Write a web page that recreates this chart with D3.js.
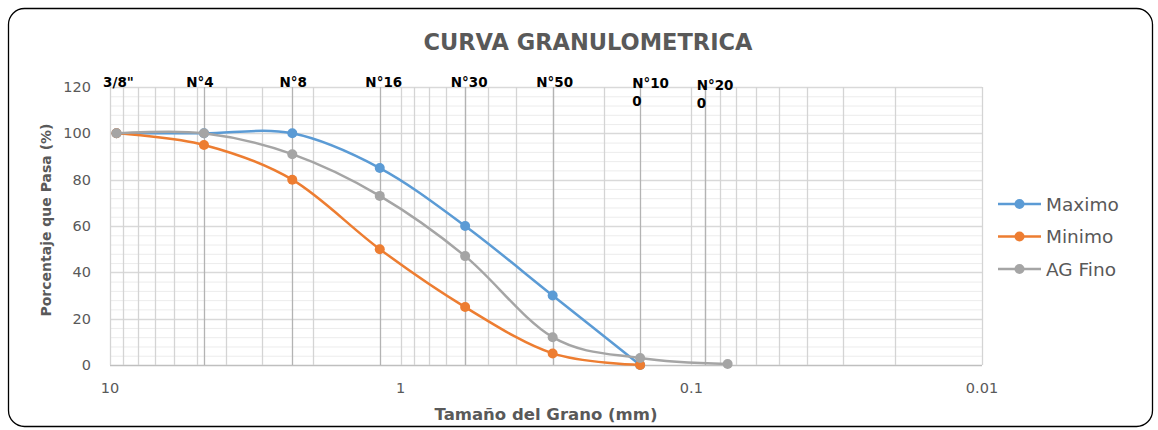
<!DOCTYPE html>
<html>
<head>
<meta charset="utf-8">
<script src="https://cdn.jsdelivr.net/npm/d3@7"></script>
<style>
  body { margin: 0; background: #fff; }
  text { font-family: "DejaVu Sans", sans-serif; }
</style>
</head>
<body>
<svg id="mainsvg" width="1158" height="430"></svg>
<script>
// tamices (mm) y etiquetas
const sieveSizes = [9.5, 4.75, 2.36, 1.18, 0.6, 0.3, 0.15, 0.075];
const sieveLabels = ['3/8"', 'N°4', 'N°8', 'N°16', 'N°30', 'N°50', 'N°100', 'N°200'];
// lineas verticales de los tamices (la de N°200 cae en 0.09 en el original)
const guideSizes = [4.75, 2.36, 1.18, 0.6, 0.3, 0.15, 0.09];

const maximo = [100, 100, 100, 85, 60, 30, 0];
const minimo = [100, 95, 80, 50, 25, 5, 0];
const agFino = [100, 100, 91, 73, 47, 12, 3, 0.4];

const seriesNames = ['Maximo', 'Minimo', 'AG Fino'];
const seriesColors = ['#5B9BD5', '#ED7D31', '#A5A5A5'];

const xTicks = [10, 1, 0.1, 0.01];
const yTicks = [0, 20, 40, 60, 80, 100, 120];

const svg = d3.select('#mainsvg');
const width = +svg.attr('width');
const height = +svg.attr('height');
const plot = { left: 110, right: 982, top: 87, bottom: 365 };

const x = d3.scaleLog().domain([10, 0.01]).range([plot.left, plot.right]);
const y = d3.scaleLinear().domain([0, 120]).range([plot.bottom, plot.top]);

// marco redondeado
svg.append('rect')
  .attr('x', 8.5).attr('y', 8.5)
  .attr('width', width - 14).attr('height', height - 12)
  .attr('rx', 16)
  .attr('fill', '#fff')
  .attr('stroke', '#000')
  .attr('stroke-width', 1.3);

svg.append('text')
  .attr('x', 588).attr('y', 50)
  .attr('text-anchor', 'middle')
  .attr('font-size', 22.5).attr('font-weight', 'bold')
  .attr('fill', '#595959')
  .text('CURVA GRANULOMETRICA');

const g = svg.append('g');

// rejilla horizontal menor y mayor
g.selectAll('line.hminor').data(d3.range(0, 121, 4).filter(v => v % 20 !== 0)).join('line')
  .attr('class', 'hminor')
  .attr('x1', plot.left).attr('x2', plot.right)
  .attr('y1', d => y(d) + 0.5).attr('y2', d => y(d) + 0.5)
  .attr('stroke', '#ececec').attr('stroke-width', 1);

g.selectAll('line.hmajor').data(yTicks).join('line')
  .attr('class', 'hmajor')
  .attr('x1', plot.left).attr('x2', plot.right)
  .attr('y1', d => Math.round(y(d)) + 0.5).attr('y2', d => Math.round(y(d)) + 0.5)
  .attr('stroke', d => d === 0 ? '#bfbfbf' : '#d9d9d9').attr('stroke-width', 1.3);

// rejilla vertical logaritmica
const vgrid = [];
[10, 1, 0.1].forEach(dec => { for (let k = 10; k >= 2; k--) vgrid.push(dec * k / 10); });
vgrid.push(0.01);
g.selectAll('line.vgrid').data(vgrid).join('line')
  .attr('class', 'vgrid')
  .attr('x1', d => Math.round(x(d)) + 0.5).attr('x2', d => Math.round(x(d)) + 0.5)
  .attr('y1', plot.top).attr('y2', plot.bottom)
  .attr('stroke', '#d4d4d4').attr('stroke-width', 1.3);

g.selectAll('line.guide').data(guideSizes).join('line')
  .attr('class', 'guide')
  .attr('x1', d => Math.round(x(d)) + 0.5).attr('x2', d => Math.round(x(d)) + 0.5)
  .attr('y1', plot.top).attr('y2', plot.bottom)
  .attr('stroke', '#b3b3b3').attr('stroke-width', 1.3);

// ejes
g.selectAll('text.ytick').data(yTicks).join('text')
  .attr('class', 'ytick')
  .attr('x', 91).attr('y', d => y(d) + 5)
  .attr('text-anchor', 'end')
  .attr('font-size', 14.5).attr('fill', '#595959')
  .text(d => d);

g.selectAll('text.xtick').data(xTicks).join('text')
  .attr('class', 'xtick')
  .attr('x', d => x(d)).attr('y', 393)
  .attr('text-anchor', 'middle')
  .attr('font-size', 14.5).attr('fill', '#595959')
  .text(d => d);

svg.append('text')
  .attr('transform', 'translate(51,220) rotate(-90)')
  .attr('text-anchor', 'middle')
  .attr('font-size', 14).attr('font-weight', 'bold')
  .attr('fill', '#595959')
  .text('Porcentaje que Pasa (%)');

svg.append('text')
  .attr('x', 546).attr('y', 420)
  .attr('text-anchor', 'middle')
  .attr('font-size', 16.5).attr('font-weight', 'bold')
  .attr('fill', '#595959')
  .text('Tamaño del Grano (mm)');

// etiquetas de tamices
const labelShift = [2, -4, 1, 4, 4, 2, 0, 0];
const labelData = sieveLabels.map((t, i) => ({ t, size: sieveSizes[i], i }));
labelData.forEach(d => {
  if (d.t.length > 4) {
    const x0 = x(guideSizes[d.i - 1]) - 8;
    const dy = d.i === 7 ? 2 : 0;
    const txt = g.append('text')
      .attr('font-size', 13.5).attr('font-weight', 'bold').attr('fill', '#000');
    txt.append('tspan').attr('x', x0).attr('y', 88 + dy).text(d.t.slice(0, 4));
    txt.append('tspan').attr('x', x0).attr('y', 106 + dy).text(d.t.slice(4));
  } else {
    g.append('text')
      .attr('x', x(d.size) + labelShift[d.i]).attr('y', 87)
      .attr('text-anchor', 'middle')
      .attr('font-size', 13.5).attr('font-weight', 'bold').attr('fill', '#000')
      .text(d.t);
  }
});

// series
const series = [maximo, minimo, agFino].map((vals, i) => ({
  name: seriesNames[i],
  color: seriesColors[i],
  points: vals.map((v, j) => ({ size: sieveSizes[j], v }))
}));

const line = d3.line()
  .x(d => x(d.size)).y(d => y(d.v))
  .curve(d3.curveCardinal.tension(0));

const sg = g.selectAll('g.series').data(series).join('g').attr('class', 'series');
sg.append('path')
  .attr('d', d => line(d.points))
  .attr('fill', 'none')
  .attr('stroke', d => d.color)
  .attr('stroke-width', 2.5);
sg.selectAll('circle').data(d => d.points.map(p => ({ ...p, color: d.color }))).join('circle')
  .attr('cx', d => x(d.size)).attr('cy', d => y(d.v))
  .attr('r', 5)
  .attr('fill', d => d.color);

// leyenda
const lg = svg.selectAll('g.legend').data(series).join('g')
  .attr('class', 'legend')
  .attr('transform', (d, i) => `translate(998, ${204 + i * 32.5})`);
lg.append('line')
  .attr('x1', 0).attr('x2', 43)
  .attr('stroke', d => d.color).attr('stroke-width', 2.5);
lg.append('circle')
  .attr('cx', 21.5).attr('r', 5)
  .attr('fill', d => d.color);
lg.append('text')
  .attr('x', 48).attr('y', 6.5)
  .attr('font-size', 18.5).attr('fill', '#595959')
  .text(d => d.name);
</script>
</body>
</html>
